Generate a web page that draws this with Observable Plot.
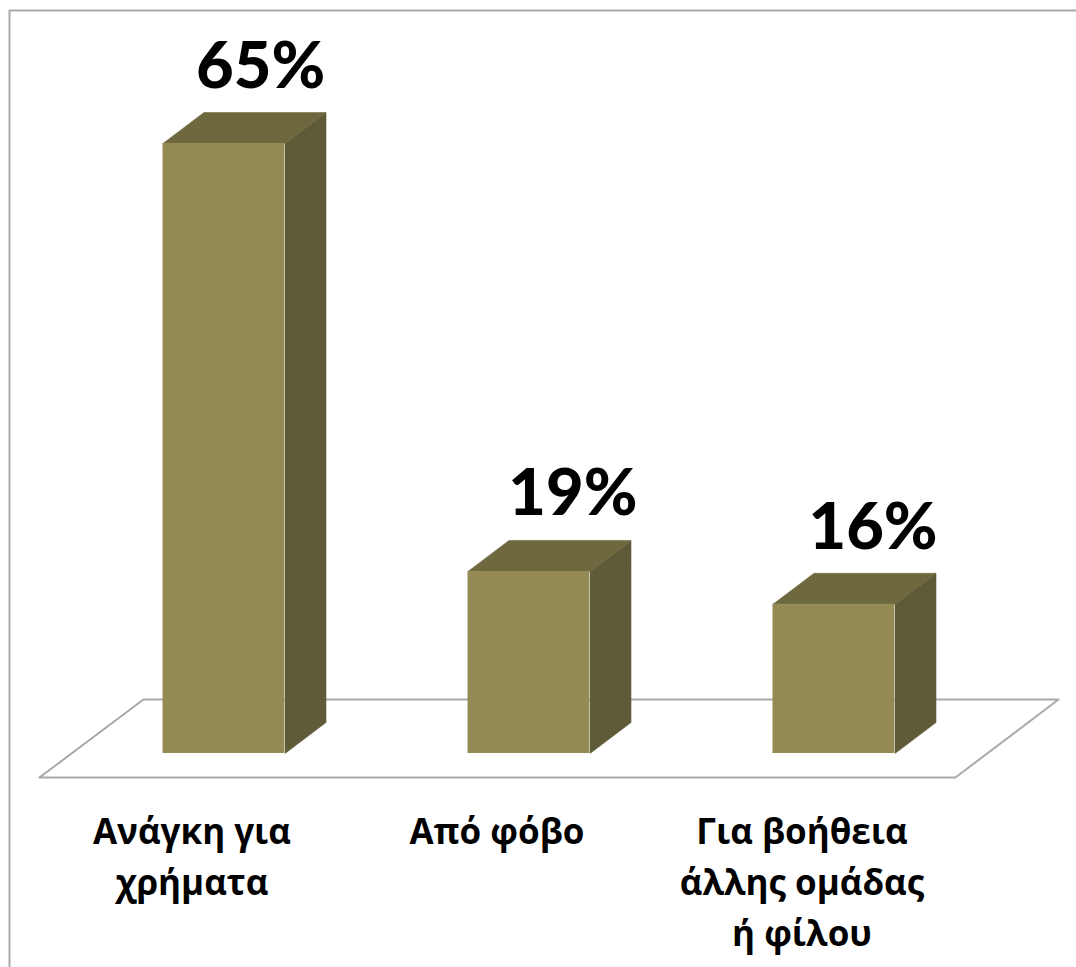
<!DOCTYPE html>
<html lang="el">
<head>
<meta charset="utf-8">
<script src="https://cdn.jsdelivr.net/npm/d3@7"></script>
<script src="https://cdn.jsdelivr.net/npm/@observablehq/plot@0.6"></script>
<style>
html,body{margin:0;padding:0;background:#fff;}
svg{display:block;}
</style>
</head>
<body>
<div id="chart"></div>
<script>
const categories = ["Ανάγκη για\nχρήματα", "Από φόβο", "Για βοήθεια\nάλλης ομάδας\nή φίλου"];
const values = [65, 19.4, 15.9];
const valueLabels = ["65%", "19%", "16%"];

// Geometry of the pseudo-3D box, in data units
const halfBar = 0.2, depthX = 0.1344, depthY = 3.3;
const floorFront = -2.56, floorBack = 5.75;
const faces = [];
values.forEach((v, i) => {
  const l = i - halfBar, r = i + halfBar;
  const add = (face, pts) => pts.forEach(([x, y]) => faces.push({id: face + i, face, x, y}));
  add("side", [[r, 0], [r + depthX, depthY], [r + depthX, v + depthY], [r, v]]);
  add("top", [[l, v], [l + depthX, v + depthY], [r + depthX, v + depthY], [r, v]]);
});
const floor = [[-0.605, floorFront], [-0.264, floorBack], [2.736, floorBack], [2.398, floorFront], [-0.605, floorFront]]
  .map(([x, y]) => ({x, y}));

const rows = values.map((v, i) => ({i, v, cat: categories[i], label: valueLabels[i]}));
const valueShift = [0.12, 0.144, 0.128];
const valueRaise = [0, 0.1, 0];
const labelShift = -0.105;
const faceColor = d => d.face === "side" ? "#5f5a37" : "#6e683f";

const chart = Plot.plot({
  width: 1076, height: 967, margin: 0,
  x: {domain: [-0.7328, 2.7951], range: [0, 1076], axis: null},
  y: {domain: [-22.8, 80.23], range: [967, 0], axis: null},
  color: {type: "identity"},
  marks: [
    Plot.ruleX([-0.7033], {y1: -22.8, y2: 79.17, stroke: "#a9a9a9", strokeWidth: 2}),
    Plot.ruleY([79.17], {x1: -0.7033, x2: 2.7951, stroke: "#a9a9a9", strokeWidth: 2}),
    Plot.line(floor, {x: "x", y: "y", stroke: "#a9a9a9", strokeWidth: 2, curve: "linear"}),
    Plot.line(faces, {x: "x", y: "y", z: "id", curve: "linear", fill: faceColor, stroke: faceColor, strokeWidth: 0.6}),
    Plot.rectY(rows, {x1: d => d.i - halfBar, x2: d => d.i + halfBar, y1: 0, y2: "v", fill: "#948a54"}),
    Plot.text(rows, {x: d => d.i + valueShift[d.i], y: d => d.v + depthY + valueRaise[d.i], dy: -45, text: "label",
      fontFamily: "Lato", fontWeight: 900, fontSize: 65, fill: "#000"}),
    Plot.text(rows, {x: d => d.i + labelShift, y: floorFront, dy: 30, text: "cat", lineAnchor: "top",
      lineHeight: 1.457, fontFamily: "Open Sans", fontWeight: 700, fontSize: 35, fill: "#000"})
  ]
});
document.getElementById("chart").appendChild(chart);
</script>
</body>
</html>
